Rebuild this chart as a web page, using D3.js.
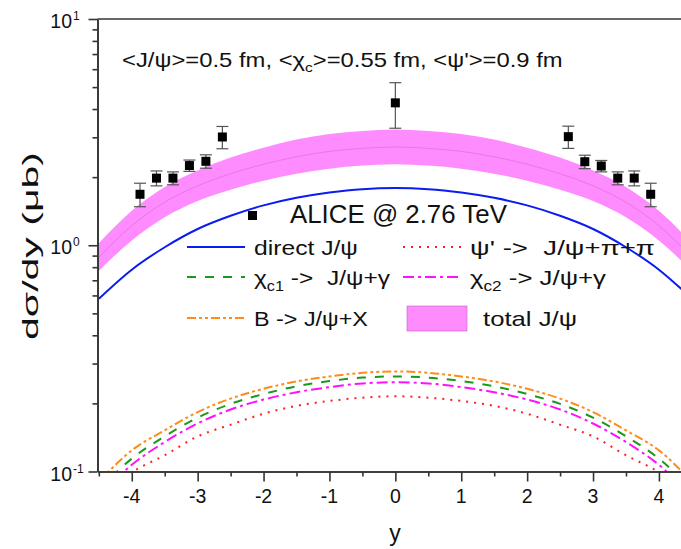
<!DOCTYPE html>
<html><head><meta charset="utf-8">
<script src="https://cdn.jsdelivr.net/npm/d3@7"></script>
<style>
body{margin:0;background:#fff;}
text{font-family:"Liberation Sans",Arial,sans-serif;fill:#111;white-space:pre;}
</style></head>
<body><svg id="c" width="681" height="549"></svg>
<script>
// ---- data ----
const rapidity = [-4.5,-4,-3.5,-3,-2.5,-2,-1.5,-1,-0.5,0,0.5,1,1.5,2,2.5,3,3.5,4,4.5];
const directJpsi = [0.58,0.78,0.98,1.18,1.35,1.50,1.62,1.71,1.77,1.79,1.77,1.71,1.62,1.50,1.35,1.18,0.98,0.78,0.58];
const psiPrime   = [0.075,0.099,0.118,0.143,0.161,0.180,0.195,0.205,0.212,0.215,0.212,0.205,0.195,0.180,0.161,0.143,0.118,0.099,0.075];
const chic1      = [0.083,0.114,0.143,0.173,0.199,0.220,0.238,0.251,0.260,0.263,0.260,0.251,0.238,0.220,0.199,0.173,0.143,0.114,0.083];
const chic2      = [0.078,0.107,0.135,0.163,0.188,0.208,0.224,0.236,0.245,0.248,0.245,0.236,0.224,0.208,0.188,0.163,0.135,0.107,0.078];
const bDecay     = [0.090,0.124,0.152,0.183,0.210,0.232,0.250,0.263,0.273,0.277,0.273,0.263,0.250,0.232,0.210,0.183,0.152,0.124,0.090];
const totalLow   = [0.77,1.05,1.33,1.57,1.76,1.93,2.07,2.18,2.25,2.28,2.25,2.18,2.07,1.93,1.76,1.57,1.33,1.05,0.77];
const totalHigh  = [1.02,1.42,1.81,2.14,2.44,2.70,2.93,3.10,3.20,3.25,3.20,3.10,2.93,2.70,2.44,2.14,1.81,1.42,1.02];
const totalMid   = [0.885,1.22,1.55,1.83,2.07,2.28,2.46,2.60,2.68,2.72,2.68,2.60,2.46,2.28,2.07,1.83,1.55,1.22,0.885];

const aliceY   = [-3.875,-3.625,-3.375,-3.125,-2.875,-2.625,0,2.625,2.875,3.125,3.375,3.625,3.875];
const aliceVal = [1.68,1.98,1.98,2.25,2.35,3.01,4.26,3.02,2.34,2.24,1.98,1.98,1.68];
const aliceErr = [0.20,0.15,0.13,0.13,0.16,0.34,0.97,0.34,0.16,0.13,0.13,0.15,0.20];

const xMajorTicks = [-4,-3,-2,-1,0,1,2,3,4];
const xMinorTicks = [-4.5,-3.5,-2.5,-1.5,-0.5,0.5,1.5,2.5,3.5,4.5];
const yMajorTicks = [0.1,1,10];
const yMajorExp = ["-1","0","1"];
const yMinorTicks = [0.2,0.3,0.4,0.5,0.6,0.7,0.8,0.9,2,3,4,5,6,7,8,9];

// ---- layout ----
const L=97.5, R=693.2, T=19, B=471.5;
const svg=d3.select("#c");
const x=d3.scaleLinear().domain([-4.52,4.52]).range([L,R]);
const y=d3.scaleLog().domain([0.1,10]).range([B,T]);

// stretch a text horizontally so that it spans a given width
function fit(t, px, py, w, extra){
  const len=t.node().getComputedTextLength();
  t.attr("x",0).attr("y",0).attr("transform",`translate(${px},${py})${extra||""} scale(${w/len},1)`);
}

svg.append("defs").append("clipPath").attr("id","clip")
  .append("rect").attr("x",L).attr("y",T).attr("width",R-L).attr("height",B-T);
const plot=svg.append("g").attr("clip-path","url(#clip)");

const band=d3.area().x((d,i)=>x(rapidity[i])).y0((d,i)=>y(totalLow[i])).y1((d,i)=>y(totalHigh[i])).curve(d3.curveMonotoneX);
plot.append("path").datum(rapidity).attr("d",band).attr("fill","#ff8cff").attr("stroke","none");
const line=arr=>d3.line().x((d,i)=>x(rapidity[i])).y((d,i)=>y(arr[i])).curve(d3.curveMonotoneX)(arr);
plot.append("path").attr("d",line(totalMid)).attr("fill","none").attr("stroke","#e46ee4").attr("stroke-width",0.8);

const series=[
  {v:directJpsi,c:"#0a1cf0",d:null},
  {v:psiPrime,c:"#ff2020",d:"2,6"},
  {v:chic1,c:"#1a9a1a",d:"9,9"},
  {v:chic2,c:"#ff10ff",d:"11,4,3,4"},
  {v:bDecay,c:"#ff8c1a",d:"9,3,3,3,3,3"}
];
series.forEach(s=>{
  plot.append("path").attr("d",line(s.v)).attr("fill","none").attr("stroke",s.c)
    .attr("stroke-width",2).attr("stroke-dasharray",s.d);
});

// data points
const pts=svg.append("g");
aliceY.forEach((yy,i)=>{
  const cx=x(yy), hi=y(aliceVal[i]+aliceErr[i]), lo=y(aliceVal[i]-aliceErr[i]);
  pts.append("line").attr("x1",cx).attr("x2",cx).attr("y1",hi).attr("y2",lo).attr("stroke","#555").attr("stroke-width",1.2);
  [hi,lo].forEach(v=>pts.append("line").attr("x1",cx-6).attr("x2",cx+6).attr("y1",v).attr("y2",v).attr("stroke","#555").attr("stroke-width",1.2));
  pts.append("rect").attr("x",cx-4.5).attr("y",y(aliceVal[i])-4.5).attr("width",9).attr("height",9).attr("fill","#000");
});

// axes
const axStyle=g=>{g.selectAll("path,line").attr("stroke","#333").attr("stroke-width",1.6);g.selectAll("text").remove();};
svg.append("g").attr("transform",`translate(0,${B})`).call(d3.axisBottom(x).tickValues(xMajorTicks).tickSize(10).tickSizeOuter(0)).call(axStyle);
svg.append("g").attr("transform",`translate(0,${B})`).call(d3.axisBottom(x).tickValues(xMinorTicks).tickSize(5).tickSizeOuter(0)).call(axStyle);
svg.append("g").attr("transform",`translate(${L},0)`).call(d3.axisLeft(y).tickValues(yMajorTicks).tickSize(9).tickSizeOuter(0)).call(axStyle);
svg.append("g").attr("transform",`translate(${L},0)`).call(d3.axisLeft(y).tickValues(yMinorTicks).tickSize(5).tickSizeOuter(0)).call(axStyle);
svg.append("line").attr("x1",L).attr("x2",R).attr("y1",T).attr("y2",T).attr("stroke","#333").attr("stroke-width",1.6);
svg.append("line").attr("x1",R).attr("x2",R).attr("y1",T).attr("y2",B).attr("stroke","#333").attr("stroke-width",1.6);

// tick labels
xMajorTicks.forEach(t=>{
  svg.append("text").attr("x",x(t)).attr("y",503).attr("text-anchor","middle").attr("font-size",19.5).text(t<0?"-"+Math.abs(t):String(t));
});
yMajorTicks.forEach((t,i)=>{
  svg.append("text").attr("x",72).attr("y",y(t)+9).attr("text-anchor","end").attr("font-size",19.5).text("10");
  svg.append("text").attr("x",73).attr("y",y(t)+1).attr("font-size",12).text(yMajorExp[i]);
});

// axis titles
svg.append("text").attr("x",395).attr("y",541).attr("text-anchor","middle").attr("font-size",23).text("y");
const yl=svg.append("text").attr("text-anchor","middle").attr("font-size",22).text("dσ/dy (μb)");
fit(yl,38,246,188," rotate(-90)");

// annotation
const ann=svg.append("text").attr("font-size",20);
ann.append("tspan").text("<J/ψ>=0.5 fm, <χ");
ann.append("tspan").attr("font-size",13).attr("dy",5).text("c");
ann.append("tspan").attr("dy",-5).text(">=0.55 fm, <ψ'>=0.9 fm");
fit(ann,122,67,441);

// legend
const lg=svg.append("g");
lg.append("rect").attr("x",248).attr("y",211).attr("width",9).attr("height",9).attr("fill","#000");
const al=lg.append("text").attr("font-size",25).text("ALICE @ 2.76 TeV");
fit(al,290,223,217);
const row=(lx,ly,s,parts,w)=>{
  lg.append("line").attr("x1",lx).attr("x2",lx+58).attr("y1",ly).attr("y2",ly).attr("stroke",s.c).attr("stroke-width",2).attr("stroke-dasharray",s.d);
  const t=lg.append("text").attr("font-size",21);
  parts.forEach(p=>{const ts=t.append("tspan").text(p.t); if(p.sub){ts.attr("font-size",14).attr("dy",6);} if(p.up){ts.attr("dy",-6);} });
  fit(t,lx+67,ly+8,w);
};
row(187,247,series[0],[{t:"direct J/ψ"}],104);
row(403,247,series[1],[{t:"ψ' ->  J/ψ+π+π"}],185);
row(187,277,series[2],[{t:"χ"},{t:"c1",sub:true},{t:" ->  J/ψ+γ",up:true}],136);
row(403,277,series[3],[{t:"χ"},{t:"c2",sub:true},{t:" -> J/ψ+γ",up:true}],136);
row(187,318,series[4],[{t:"B -> J/ψ+X"}],114);
lg.append("rect").attr("x",407).attr("y",306).attr("width",60).attr("height",25).attr("fill","#ff8cff").attr("stroke","#c060c0").attr("stroke-width",0.6);
const tt=lg.append("text").attr("font-size",21).text("total J/ψ");
fit(tt,483,326,94);
</script></body></html>
